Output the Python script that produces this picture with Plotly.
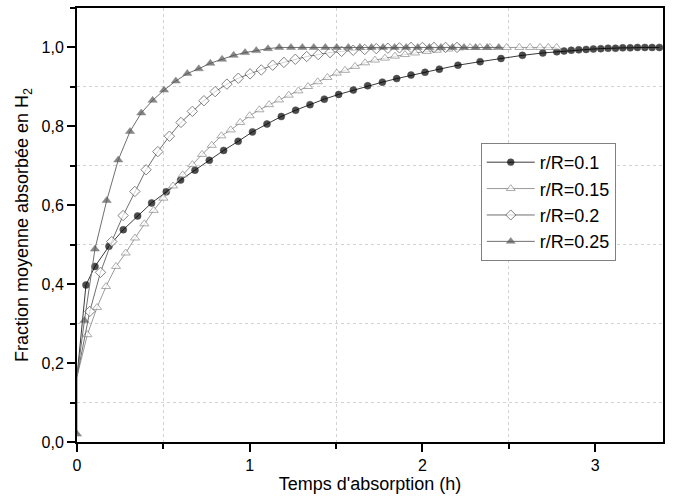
import plotly.graph_objects as go

# r/R = 0.1 (filled circles)
t_01 = [0, 0.052, 0.104, 0.185, 0.268, 0.351, 0.432, 0.517, 0.600, 0.683,
        0.766, 0.849, 0.933, 1.016, 1.100, 1.183, 1.266, 1.349, 1.432, 1.515,
        1.600, 1.683, 1.768, 1.851, 1.934, 2.015, 2.098, 2.206, 2.334, 2.455,
        2.579, 2.697, 2.778, 2.820, 2.862, 2.905, 2.948, 2.990, 3.033, 3.075,
        3.118, 3.160, 3.203, 3.245, 3.288, 3.330, 3.372]
f_01 = [0.166, 0.398, 0.445, 0.496, 0.538, 0.573, 0.606, 0.634, 0.664, 0.689,
        0.714, 0.739, 0.762, 0.786, 0.806, 0.825, 0.841, 0.855, 0.869, 0.881,
        0.892, 0.903, 0.912, 0.921, 0.930, 0.937, 0.945, 0.955, 0.964, 0.972,
        0.980, 0.986, 0.989, 0.991, 0.993, 0.994, 0.995, 0.996, 0.997, 0.998,
        0.998, 0.999, 0.999, 1.0, 1.0, 1.0, 1.0]

# r/R = 0.15 (open triangles)
t_015 = [0, 0.060, 0.116, 0.168, 0.226, 0.282, 0.336, 0.390, 0.444, 0.500,
         0.556, 0.612, 0.668, 0.724, 0.780, 0.836, 0.890, 0.945, 1.000, 1.056,
         1.112, 1.170, 1.226, 1.282, 1.338, 1.394, 1.450, 1.504, 1.552, 1.610,
         1.668, 1.725, 1.783, 1.841, 1.899, 1.957, 2.025, 2.083, 2.150, 2.214,
         2.276, 2.333, 2.391, 2.488, 2.561, 2.623, 2.681, 2.729, 2.777]
f_015 = [0.166, 0.272, 0.341, 0.394, 0.445, 0.479, 0.517, 0.553, 0.587, 0.618,
         0.649, 0.677, 0.703, 0.729, 0.752, 0.776, 0.791, 0.810, 0.827, 0.842,
         0.855, 0.867, 0.879, 0.890, 0.901, 0.913, 0.924, 0.935, 0.942, 0.952,
         0.961, 0.968, 0.973, 0.978, 0.982, 0.986, 0.990, 0.993, 0.996, 0.999,
         1.0, 1.0, 1.0, 1.0, 1.0, 1.0, 1.0, 1.0, 1.0]

# r/R = 0.2 (open diamonds)
t_02 = [0, 0.074, 0.136, 0.201, 0.267, 0.335, 0.400, 0.468, 0.535, 0.602,
        0.668, 0.735, 0.800, 0.868, 0.934, 1.002, 1.067, 1.133, 1.198, 1.264,
        1.330, 1.397, 1.465, 1.532, 1.599, 1.666, 1.733, 1.800, 1.867, 1.934,
        2.000, 2.067, 2.134, 2.200]
f_02 = [0.166, 0.331, 0.430, 0.508, 0.574, 0.635, 0.690, 0.736, 0.775, 0.810,
        0.838, 0.865, 0.888, 0.907, 0.922, 0.933, 0.943, 0.955, 0.962, 0.970,
        0.977, 0.982, 0.987, 0.990, 0.993, 0.995, 0.997, 0.998, 0.999, 1.0,
        1.0, 1.0, 1.0, 1.0]

# r/R = 0.25 (filled triangles)
t_025 = [0, 0, 0.043, 0.104, 0.172, 0.239, 0.307, 0.372, 0.438, 0.504,
         0.572, 0.639, 0.705, 0.772, 0.840, 0.907, 0.973, 1.038, 1.106, 1.171,
         1.239, 1.305, 1.371, 1.438, 1.504, 1.571, 1.638, 1.705, 1.772, 1.839,
         1.906, 1.973, 2.040, 2.107, 2.174, 2.241, 2.308, 2.375, 2.442]
f_025 = [0.02, 0.166, 0.308, 0.489, 0.612, 0.715, 0.787, 0.834, 0.866, 0.892,
         0.915, 0.934, 0.946, 0.960, 0.970, 0.980, 0.987, 0.992, 0.997, 1.0,
         1.0, 1.0, 1.0, 1.0, 1.0, 1.0, 1.0, 1.0, 1.0, 1.0,
         1.0, 1.0, 1.0, 1.0, 1.0, 1.0, 1.0, 1.0, 1.0]

labels = ["r/R=0.1", "r/R=0.15", "r/R=0.2", "r/R=0.25"]

FONT = "'Liberation Sans', Arial, sans-serif"


def sizes(xs, ys, s):
    # the shared starting point at t=0 has no visible marker
    return [0 if (x == 0 and y > 0.1) else s for x, y in zip(xs, ys)]


fig = go.Figure()

fig.add_trace(go.Scatter(
    x=t_01, y=f_01, name=labels[0], mode="lines+markers",
    line=dict(color="#3a3a3a", width=1),
    marker=dict(symbol="circle", size=sizes(t_01, f_01, 7), color="black",
                line=dict(color="black", width=0.5))
))
fig.add_trace(go.Scatter(
    x=t_015, y=f_015, name=labels[1], mode="lines+markers",
    line=dict(color="#9a9a9a", width=1),
    marker=dict(symbol="triangle-up", size=sizes(t_015, f_015, 8), color="white",
                line=dict(color="#8a8a8a", width=1))
))
fig.add_trace(go.Scatter(
    x=t_02, y=f_02, name=labels[2], mode="lines+markers",
    line=dict(color="#707070", width=1),
    marker=dict(symbol="diamond", size=sizes(t_02, f_02, 8), color="white",
                line=dict(color="#505050", width=1))
))
fig.add_trace(go.Scatter(
    x=t_025, y=f_025, name=labels[3], mode="lines+markers",
    line=dict(color="#707070", width=1),
    marker=dict(symbol="triangle-up", size=sizes(t_025, f_025, 8), color="#555555",
                line=dict(color="#555555", width=0.5))
))

fig.update_xaxes(
    range=[0, 3.393], dtick=1, tick0=0, automargin=False,
    showline=True, linecolor="black", linewidth=2, mirror=True,
    ticks="outside", ticklen=8, tickwidth=2, tickcolor="black",
    showgrid=False, zeroline=False,
    minor=dict(dtick=0.5, tick0=0, ticks="outside", ticklen=5, tickwidth=2,
               tickcolor="black", showgrid=True, gridcolor="#d2d2d2",
               griddash="dot", gridwidth=1),
    tickfont=dict(size=16, color="black"),
    title=dict(text="Temps d'absorption (h)", font=dict(size=18, color="black"),
               standoff=2)
)
fig.update_yaxes(
    range=[0, 1.1], dtick=0.2, tick0=0, tickformat=".1f", automargin=False,
    showline=True, linecolor="black", linewidth=2, mirror=True,
    ticks="outside", ticklen=8, tickwidth=2, tickcolor="black",
    showgrid=False, zeroline=False,
    minor=dict(dtick=0.1, tick0=0, ticks="outside", ticklen=5, tickwidth=2,
               tickcolor="black", showgrid=True, gridcolor="#d2d2d2",
               griddash="dot", gridwidth=1),
    tickfont=dict(size=16, color="black"),
    title=dict(text="Fraction moyenne absorbée en H<sub>2</sub>",
               font=dict(size=18, color="black"), standoff=8)
)

fig.update_layout(
    width=677, height=497,
    margin=dict(l=77, r=14, t=8, b=55),
    separators=",.",
    font=dict(family=FONT, color="black"),
    plot_bgcolor="white", paper_bgcolor="white",
    legend=dict(x=0.689, y=0.689, xanchor="left", yanchor="top",
                bordercolor="#808080", borderwidth=1, bgcolor="white",
                font=dict(size=18, color="black"), tracegroupgap=0,
                itemwidth=48),
    showlegend=True
)

# drop the default body margin so the figure sits at the page corner
fig.write_html("out.html", config={"displayModeBar": False},
               post_script="document.body.style.margin='0';")
